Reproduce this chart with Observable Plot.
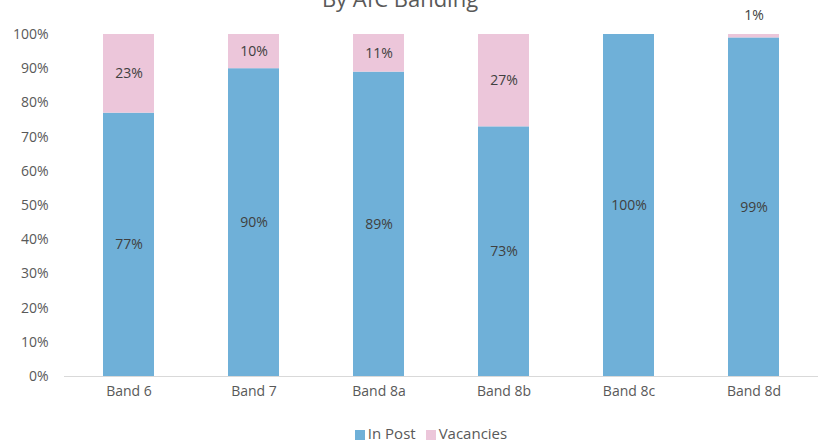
<!DOCTYPE html>
<html>
<head>
<meta charset="utf-8">
<script src="https://cdn.jsdelivr.net/npm/d3@7"></script>
<script src="https://cdn.jsdelivr.net/npm/@observablehq/plot@0.6"></script>
<style>
  html, body { margin: 0; padding: 0; background: #fff; overflow: hidden; }
  body { width: 818px; height: 442px; position: relative; font-family: "Open Sans", Lato, sans-serif; }
  #title { position: absolute; top: -17px; left: 0; width: 800px; text-align: center; font-size: 22px; color: #595959; }
  #chart { position: absolute; top: 0; left: 0; }
  #legend { position: absolute; top: 423px; left: 0; width: 862px; display: flex; justify-content: center; gap: 10px; font-size: 15px; color: #595959; }
  .sw { display: inline-block; width: 10px; height: 10px; margin-right: 3px; vertical-align: -1px; }
</style>
</head>
<body>
<div id="title">By AfC Banding</div>
<div id="chart"></div>
<div id="legend">
  <span><span class="sw" style="background:#6fb0d8"></span>In Post</span>
  <span><span class="sw" style="background:#ecc6da"></span>Vacancies</span>
</div>
<script>
const bands = ["Band 6", "Band 7", "Band 8a", "Band 8b", "Band 8c", "Band 8d"];
const inPost = [77, 90, 89, 73, 100, 99];
const vacancies = [23, 10, 11, 27, 0, 1];
const yTicks = [0, 10, 20, 30, 40, 50, 60, 70, 80, 90, 100];

const rows = [];
bands.forEach((b, i) => {
  rows.push({band: b, series: "In Post", value: inPost[i]});
  rows.push({band: b, series: "Vacancies", value: vacancies[i]});
});

const inLabels = bands.map((b, i) => ({band: b, y: inPost[i] / 2, text: inPost[i] + "%"}));
const vacLabels = bands.map((b, i) => ({band: b, v: vacancies[i], y0: inPost[i]}))
  .filter(d => d.v > 0);
const vacMid = vacLabels.filter(d => d.v >= 5).map(d => ({band: d.band, y: d.y0 + d.v / 2, text: d.v + "%"}));
const vacTop = vacLabels.filter(d => d.v < 5).map(d => ({band: d.band, y: 100, text: d.v + "%"}));

const plot = Plot.plot({
  width: 818,
  height: 405,
  marginTop: 34,
  marginBottom: 29,
  marginLeft: 64,
  marginRight: 0,
  style: {fontFamily: "'Open Sans', Lato, sans-serif", fontSize: "14px", color: "#595959", background: "transparent"},
  x: {domain: bands, paddingInner: 0.595, paddingOuter: 0.3, label: null, tickSize: 0, tickPadding: 10},
  y: {domain: [0, 100], ticks: yTicks, tickFormat: d => d + "%", label: null, tickSize: 0, tickPadding: 16},
  color: {domain: ["In Post", "Vacancies"], range: ["#6fb0d8", "#ecc6da"]},
  marks: [
    Plot.barY(rows, {x: "band", y: "value", fill: "series", order: ["In Post", "Vacancies"]}),
    Plot.ruleY([0], {stroke: "#d9d9d9", strokeWidth: 1}),
    Plot.text(inLabels, {x: "band", y: "y", text: "text", fill: "#404040", fontSize: 14}),
    Plot.text(vacMid, {x: "band", y: "y", text: "text", fill: "#404040", fontSize: 14}),
    Plot.text(vacTop, {x: "band", y: "y", text: "text", fill: "#404040", fontSize: 14, dy: -19})
  ]
});
document.getElementById("chart").appendChild(plot);
</script>
</body>
</html>
